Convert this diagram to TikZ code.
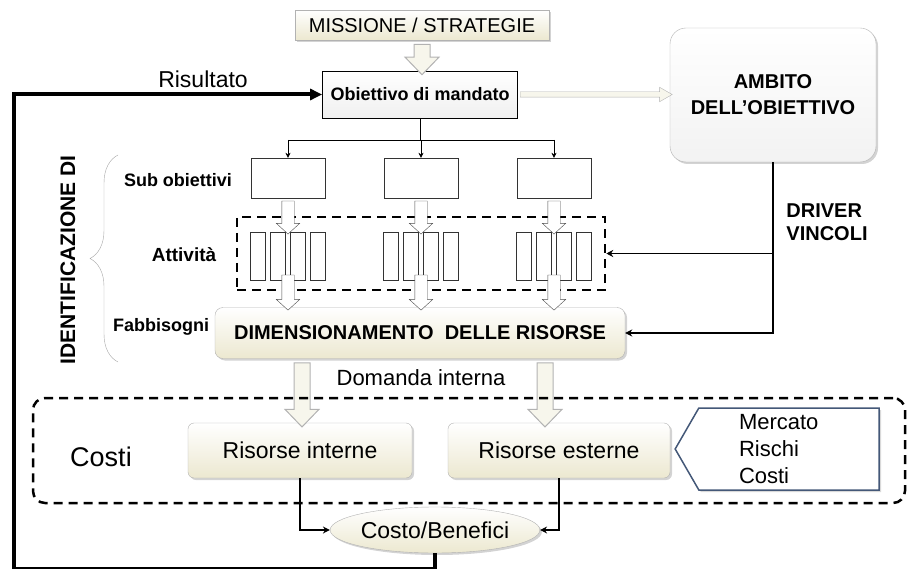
\documentclass[tikz,border=0pt]{standalone}
\usepackage{fontspec}
\setmainfont{Liberation Sans}
\usetikzlibrary{positioning,calc,shapes.geometric,shapes.arrows,shapes.symbols,shadows,decorations.pathreplacing,arrows.meta}

\definecolor{cream}{RGB}{236,232,208}
\definecolor{slate}{RGB}{68,88,120}
\newcommand\fs[1]{\fontsize{#1}{#1}\selectfont}
\newcommand\hollowarrow[3]{%
  \path let \p1=(#1), \p2=(#2), \n1={veclen(\x2-\x1,\y2-\y1)},
    \n2={atan2(\y2-\y1,\x2-\x1)} in
    node[single arrow, rotate=\n2, minimum height=\n1, inner xsep=0pt, #3]
      at ($(\p1)!.5!(\p2)$) {};}

\begin{document}
\begin{tikzpicture}[x=1pt,y=-1pt,thick,
    creambox/.style={draw=gray!60, thin, top color=white, bottom color=cream,
      drop shadow={shadow xshift=2pt,shadow yshift=-2pt,opacity=.35}},
    subbox/.style={draw=black!80, thin, minimum width=74, minimum height=40},
    bar/.style={draw=black!80, thin, minimum width=15, minimum height=48},
    dashbox/.style={draw, line width=2.5pt, dash pattern=on 9pt off 6pt},
    conn/.style={line width=1.8pt, -{Stealth[length=7pt,width=7pt]}},
    bigarrow/.style={draw=gray!60, fill=cream!40, line width=1pt, inner ysep=7.5pt,
      single arrow head extend=9pt, single arrow tip angle=88},
    smallarrow/.style={draw=black!70, fill=white, thin, inner ysep=6pt,
      single arrow head extend=5.5pt, single arrow tip angle=95},
    thinarrow/.style={draw=gray!60, fill=cream!40, thin, inner ysep=2.5pt,
      single arrow head extend=4.5pt, single arrow tip angle=60}]
  \useasboundingbox (0,0) rectangle (907,569);

  \node[creambox, minimum width=254, minimum height=30, font=\fs{20}]
    (miss) at (422,25) {MISSIONE / STRATEGIE};
  \node[draw, thick, top color=white, bottom color=gray!12, minimum width=195,
    minimum height=47, font=\bfseries\fs{18}] (obj) at (420,94.5) {Obiettivo di mandato};
  \node[creambox, top color=white, bottom color=gray!10, rounded corners=16pt,
    minimum width=206, minimum height=134, align=center,
    font=\bfseries\fontsize{20}{26}\selectfont] (amb) at (773,95) {AMBITO\\DELL'OBIETTIVO};
  \node[align=left, font=\bfseries\fontsize{20}{23}\selectfont] (drv) at (827,222)
    {DRIVER\\VINCOLI};
  \node[font=\fs{23}] (ris) at (203,79) {Risultato};
  \hollowarrow{miss.south}{obj.north -| miss.south}{bigarrow}
  \hollowarrow{obj.east}{amb.west |- obj.east}{thinarrow}

  \coordinate (split) at (420,140);
  \draw[thin] (obj.south) -- (split);
  \foreach \i/\x in {1/288,2/421,3/554}{
    \node[subbox] (sub\i) at (\x,178) {};
    \draw[thin,-{Stealth[length=5pt,width=5pt]}] (split -| sub\i) -- (sub\i.north);
    \foreach \k [count=\j] in {-30,-10,10,30}
      \node[bar] (bar\i\j) at (\x+\k,256) {};
  }
  \draw[thin] (split -| sub1) -- (split -| sub3);
  \node[dashbox, minimum width=368, minimum height=73] (act) at (421,253.5) {};
  \node[creambox, rounded corners=8pt, minimum width=410, minimum height=51,
    font=\bfseries\fs{20}] (dim) at (420,333) {DIMENSIONAMENTO\ \ DELLE RISORSE};
  \foreach \i in {1,2,3}{
    \hollowarrow{sub\i.south}{$(sub\i.south)+(0,33)$}{smallarrow}
    \hollowarrow{$(sub\i.south)+(0,74)$}{sub\i.south |- dim.north}{smallarrow}
  }
  \draw[conn] (amb.south) |- (dim.east);
  \draw[conn] (amb.south |- act.east) -- (act.east);

  \draw[gray!70, thin, decorate, decoration={brace, amplitude=28pt}]
    (118,362) -- (118,155);
  \node[rotate=90, font=\bfseries\fs{21}] (ident) at (68,260) {IDENTIFICAZIONE DI};
  \node[font=\bfseries\fs{18}] (lsub) at (178,180) {Sub obiettivi};
  \node[font=\bfseries\fs{19}] (latt) at (184,255) {Attività};
  \node[font=\bfseries\fs{18}] (lfab) at (161,327) {Fabbisogni};

  \node[font=\fs{22}] (dom) at (421,378) {Domanda interna};
  \node[creambox, rounded corners=6pt, minimum width=224, minimum height=55,
    font=\fs{23}] (rint) at (300,450.5) {Risorse interne};
  \node[creambox, rounded corners=6pt, minimum width=222, minimum height=55,
    font=\fs{23}] (rext) at (559,450.5) {Risorse esterne};
  \coordinate (dl) at (302,0);
  \coordinate (dr) at (545,0);
  \hollowarrow{dim.south -| dl}{rint.north -| dl}{bigarrow}
  \hollowarrow{dim.south -| dr}{rext.north -| dr}{bigarrow}
  \node[dashbox, rounded corners=12pt, minimum width=872, minimum height=105]
    (cost) at (469,450.5) {};
  \node[font=\fs{27}] (costi) at (101,457) {Costi};
  \node[signal, signal to=west, signal from=nowhere, signal pointer angle=120,
    draw=slate, line width=1.5pt, fill=white, minimum width=204, minimum height=82,
    text width=100pt, align=left, font=\fontsize{22}{27}\selectfont,
    drop shadow={shadow xshift=2pt,shadow yshift=-2pt,opacity=.3}]
    (merc) at (789,449) {Mercato\\Rischi\\Costi};

  \node[ellipse, draw=gray!60, thin, top color=white, bottom color=cream, inner sep=0pt,
    minimum width=205, minimum height=46, font=\fs{23},
    drop shadow={shadow xshift=2pt,shadow yshift=-2pt,opacity=.35}]
    (cb) at (435,530) {Costo/Benefici};
  \draw[conn] (rint.south) |- (cb.west);
  \draw[conn] (rext.south) |- (cb.east);
  \coordinate (fb) at (14,569);
  \draw[line width=4pt, -{Triangle[length=12pt,width=11pt]}]
    (cb.south) |- (fb) |- (obj.west);
\end{tikzpicture}
\end{document}
